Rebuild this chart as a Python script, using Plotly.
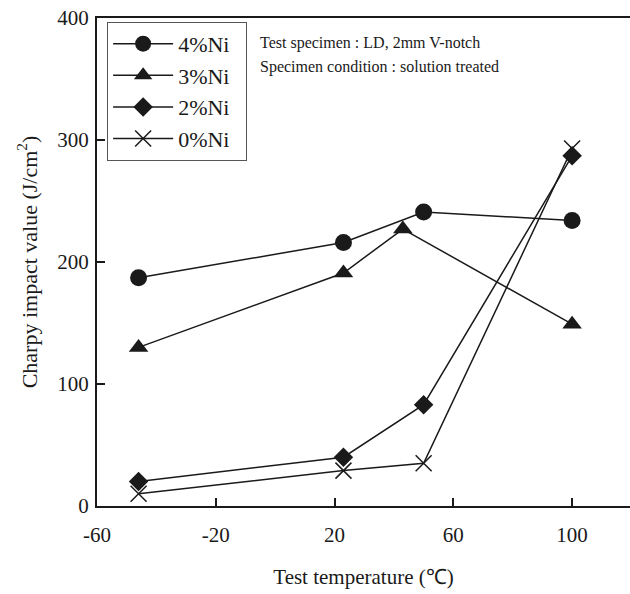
import plotly.graph_objects as go

temps = [-46, 23, 50, 100]
temps_3ni = [-46, 23, 43, 100]
ni4 = [187, 216, 241, 234]
ni3 = [130, 191, 227, 149]
ni2 = [20, 40, 83, 287]
ni0 = [10, 29, 35, 293]

series = [
    ("4%Ni", temps, ni4, "circle", 17),
    ("3%Ni", temps_3ni, ni3, "triangle-up", 17),
    ("2%Ni", temps, ni2, "diamond", 15),
    ("0%Ni", temps, ni0, "x-thin", 16),
]

x_ticks = [-60, -20, 20, 60, 100]
y_ticks = [0, 100, 200, 300, 400]

FONT = "Liberation Serif"
INK = "#1a1a1a"

fig = go.Figure()
for name, xs, ys, sym, sz in series:
    fig.add_trace(go.Scatter(
        x=xs, y=ys, name=name + "\u00a0\u00a0", legendgroup=name,
        mode="lines+markers",
        line=dict(color=INK, width=1.5),
        marker=dict(symbol=sym, size=sz, color=INK,
                    line=dict(color=INK, width=1.5 if sym == "x-thin" else 0)),
    ))

fig.update_layout(
    width=630, height=594,
    margin=dict(l=97, r=0, t=18, b=88),
    paper_bgcolor="white", plot_bgcolor="white",
    font=dict(family=FONT, size=20, color=INK),
    showlegend=True,
    legend=dict(
        x=0.019, y=0.992, xanchor="left", yanchor="top",
        bordercolor="#555", borderwidth=1, bgcolor="white",
        font=dict(family=FONT, size=22, color=INK),
        tracegroupgap=0, itemwidth=60,
    ),
    xaxis=dict(
        range=[-60, 119.5], tickvals=x_ticks, ticktext=[str(v) for v in x_ticks],
        ticks="inside", ticklen=8, tickwidth=2, tickcolor=INK,
        showline=True, linewidth=2, linecolor=INK, mirror=True,
        showgrid=False, zeroline=False,
        tickfont=dict(family=FONT, size=21), ticklabelstandoff=9,
        title=dict(text="Test temperature (℃)", font=dict(family=FONT, size=21), standoff=23),
    ),
    yaxis=dict(
        range=[0, 400], tickvals=y_ticks, ticktext=[str(v) for v in y_ticks],
        ticks="inside", ticklen=8, tickwidth=2, tickcolor=INK,
        showline=True, linewidth=2, linecolor=INK,
        showgrid=False, zeroline=False,
        tickfont=dict(family=FONT, size=21), ticklabelstandoff=2,
        title=dict(text="Charpy impact value (J/cm<sup>2</sup>)", font=dict(family=FONT, size=22), standoff=14),
    ),
    annotations=[
        dict(text="Test specimen : LD, 2mm V-notch", x=0.302, y=0.949, xref="paper", yref="paper",
             xanchor="left", yanchor="middle", showarrow=False, font=dict(family=FONT, size=16, color=INK)),
        dict(text="Specimen condition : solution treated", x=0.302, y=0.900, xref="paper", yref="paper",
             xanchor="left", yanchor="middle", showarrow=False, font=dict(family=FONT, size=16, color=INK)),
    ],
)

fig.write_html("out.html")
